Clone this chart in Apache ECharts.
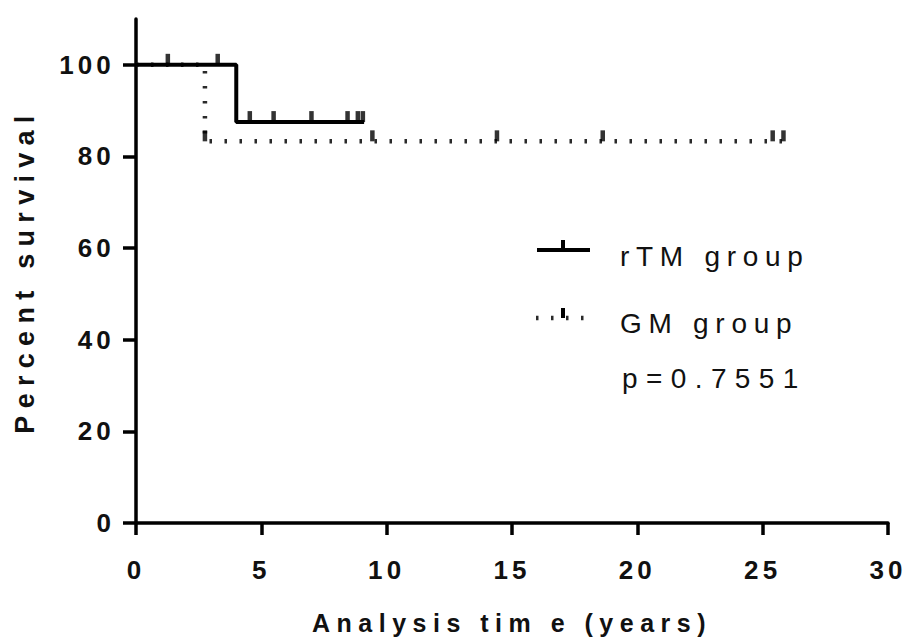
<!DOCTYPE html>
<html>
<head>
<meta charset="utf-8">
<title>survival</title>
<script src="https://cdn.jsdelivr.net/npm/echarts@6/dist/echarts.min.js"></script>
<style>
html, body { margin: 0; padding: 0; background: #fff; }
#main { width: 907px; height: 644px; }
</style>
</head>
<body>
<div id="main"></div>
<script>
// Kaplan-Meier steps (time in years, percent surviving)
var rtmTimes = [0, 4, 9.1];
var rtmSurv = [100, 87.5, 87.5];
var rtmCensorTimes = [1.27, 3.26, 4.54, 5.49, 7.0, 8.44, 8.85, 9.05];
var rtmCensorSurv = [100, 100, 87.5, 87.5, 87.5, 87.5, 87.5, 87.5];

var gmTimes = [0, 2.75, 25.95];
var gmSurv = [100, 83.3, 83.3];
var gmCensorTimes = [2.75, 9.43, 14.4, 18.62, 25.4, 25.83];
var gmCensorSurv = [83.3, 83.3, 83.3, 83.3, 83.3, 83.3];

var seriesNames = ['rTM group', 'GM group'];
var pText = 'p=0.7551';
var xTicks = [0, 5, 10, 15, 20, 25, 30];
var yTicks = [0, 20, 40, 60, 80, 100];
var xName = 'Analysis tim e (years)';
var yName = 'Percent survival';

var font = '"Liberation Sans", Arial, Helvetica, sans-serif';

function pairs(a, b) {
	var out = [];
	for (var i = 0; i < a.length; i++) out.push([a[i], b[i]]);
	return out;
}

var dom = document.getElementById('main');
var myChart = echarts.init(dom, null, { renderer: 'svg' });

var option = {
	animation: false,
	backgroundColor: '#fff',
	grid: { left: 136, right: 19, top: 19, bottom: 121 },
	xAxis: {
		type: 'value', min: 0, max: 30, interval: 5,
		axisLine: { show: true, onZero: false, lineStyle: { color: '#000', width: 3.5 } },
		axisTick: { show: true, length: 12, customValues: xTicks, lineStyle: { color: '#000', width: 3.5 } },
		axisLabel: { customValues: xTicks, margin: 34, color: '#111', fontSize: 26, fontWeight: 'bold', fontFamily: font },
		splitLine: { show: false },
		name: xName, nameLocation: 'middle', nameGap: 87,
		nameTextStyle: { color: '#111', fontSize: 25, fontWeight: 'bold', fontFamily: font }
	},
	yAxis: {
		type: 'value', min: 0, max: 110, interval: 20,
		axisLine: { show: true, onZero: false, lineStyle: { color: '#000', width: 3.5 } },
		axisTick: { show: true, length: 13, customValues: yTicks, lineStyle: { color: '#000', width: 3.5 } },
		axisLabel: { customValues: yTicks, margin: 21, color: '#111', fontSize: 26, fontWeight: 'bold', fontFamily: font },
		splitLine: { show: false },
		name: yName, nameLocation: 'middle', nameGap: 98,
		nameTextStyle: { color: '#111', fontSize: 27, fontWeight: 'bold', fontFamily: font }
	},
	series: [
		{
			name: seriesNames[1], type: 'line', step: 'end', symbol: 'none',
			data: pairs(gmTimes, gmSurv),
			lineStyle: { color: '#2a2a2a', width: 4.5, type: [2.5, 12.5], cap: 'butt' },
			z: 2
		},
		{
			name: seriesNames[0], type: 'line', step: 'end', symbol: 'none',
			data: pairs(rtmTimes, rtmSurv),
			lineStyle: { color: '#000', width: 4 },
			z: 3
		},
		{
			name: seriesNames[0] + ' censored', type: 'scatter',
			data: pairs(rtmCensorTimes, rtmCensorSurv),
			symbol: 'rect', symbolSize: [4.5, 11], symbolOffset: [0, -5.5],
			itemStyle: { color: '#000' }, z: 4
		},
		{
			name: seriesNames[1] + ' censored', type: 'scatter',
			data: pairs(gmCensorTimes, gmCensorSurv),
			symbol: 'rect', symbolSize: [4.5, 11], symbolOffset: [0, -5.5],
			itemStyle: { color: '#000' }, z: 4
		}
	],
	//legend drawn by hand, it has custom glyphs
	graphic: [
		{ type: 'line', shape: { x1: 537, y1: 250, x2: 590, y2: 250 }, style: { stroke: '#000', lineWidth: 4 } },
		{ type: 'rect', shape: { x: 561, y: 240, width: 4, height: 10 }, style: { fill: '#000' } },
		{ type: 'text', x: 620, y: 256, style: { text: seriesNames[0], font: '28px ' + font, fill: '#111', align: 'left', verticalAlign: 'middle' } },
		{ type: 'line', shape: { x1: 536, y1: 318, x2: 592, y2: 318 }, style: { stroke: '#2a2a2a', lineWidth: 4.5, lineDash: [2.5, 12.5] } },
		{ type: 'rect', shape: { x: 561, y: 308, width: 4, height: 10 }, style: { fill: '#000' } },
		{ type: 'text', x: 620, y: 323, style: { text: seriesNames[1], font: '28px ' + font, fill: '#111', align: 'left', verticalAlign: 'middle' } },
		{ type: 'text', x: 622, y: 378, style: { text: pText, font: '28px ' + font, fill: '#111', align: 'left', verticalAlign: 'middle' } }
	]
};

myChart.setOption(option);

// wide letter spacing like the original figure
function spaceText() {
	var nodes = dom.querySelectorAll('text');
	for (var i = 0; i < nodes.length; i++) {
		var s = nodes[i].textContent;
		var ls = '0.16em';
		if (s === xName) ls = '0.26em';
		else if (s === yName) ls = '0.27em';
		else if (s === seriesNames[0] || s === seriesNames[1]) ls = '0.24em';
		else if (s === pText) ls = '0.3em';
		nodes[i].style.letterSpacing = ls;
	}
}
spaceText();
myChart.on('finished', spaceText);
</script>
</body>
</html>
